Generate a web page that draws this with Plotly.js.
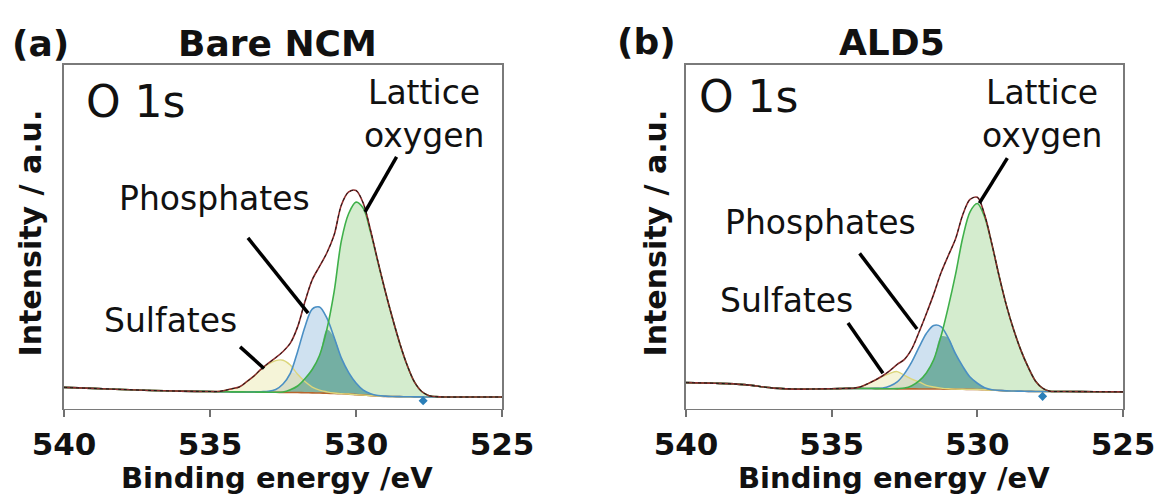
<!DOCTYPE html>
<html>
<head>
<meta charset="utf-8">
<script src="https://cdn.plot.ly/plotly-3.0.1.min.js"></script>
<style>html,body{margin:0;padding:0;background:#fff}#chart{width:1164px;height:499px}</style>
</head>
<body>
<div id="chart"></div>
<script>
// ---- data (binding energy in eV, intensity in a.u. 0-100 of the frame) ----
const energy = [540,539,538,537,536,535.5,535,534.75,534.5,534.25,534,533.75,533.5,533.25,533,532.75,532.5,532.25,532,531.75,531.5,531.25,531,530.75,530.5,530.25,530,529.75,529.5,529.25,529,528.75,528.5,528.25,528,527.75,527.5,527.25,527,526,525];

// panel (a) Bare NCM
const bgA  = [6.2,5.9,5.6,5.3,5.1,5.05,5.0,4.95,4.93,4.9,4.9,4.87,4.85,4.82,4.8,4.77,4.75,4.72,4.7,4.65,4.6,4.55,4.5,4.42,4.35,4.25,4.1,3.95,3.8,3.7,3.6,3.55,3.5,3.47,3.45,3.43,3.42,3.41,3.4,3.4,3.4];
const sulA = [6.2,5.9,5.6,5.3,5.1,5.05,5.0,5.0,5.3,5.8,6.3,7.8,9.4,11.4,13.0,14.0,14.1,12.7,10.0,7.9,6.3,5.4,4.9,4.55,4.38,4.26,4.1,3.95,3.8,3.7,3.6,3.55,3.5,3.47,3.45,3.43,3.42,3.41,3.4,3.4,3.4];
const phoA = [6.2,5.9,5.6,5.3,5.1,5.05,5.0,4.95,4.93,4.9,4.9,4.87,4.9,4.95,5.05,5.6,7.2,10.3,16.6,23.8,29.0,29.6,26.4,20.8,14.7,10.5,7.5,5.4,4.35,3.85,3.65,3.55,3.5,3.47,3.45,3.43,3.42,3.41,3.4,3.4,3.4];
const latA = [6.2,5.9,5.6,5.3,5.1,5.05,5.0,4.95,4.93,4.9,4.9,4.87,4.85,4.82,4.8,4.77,4.85,5.5,6.6,8.7,11.4,15.5,23.0,34.0,48.9,56.8,60.1,58.3,51.3,42.7,34.2,26.3,19.0,12.7,7.8,5.0,3.8,3.5,3.4,3.4,3.4];
const markA = {x:[527.7], y:[2.3]};

// panel (b) ALD5
const bgB  = [7.6,7.4,7.0,6.0,5.7,5.75,5.8,5.85,5.9,5.9,5.9,5.88,5.85,5.82,5.8,5.78,5.77,5.76,5.75,5.73,5.72,5.71,5.7,5.67,5.65,5.62,5.6,5.5,5.4,5.3,5.2,5.15,5.1,5.05,5.0,5.0,5.0,5.0,5.0,4.95,4.9];
const sulB = [7.6,7.4,7.0,6.0,5.7,5.75,5.8,5.85,5.92,5.97,6.4,7.3,8.3,9.4,10.3,10.8,9.7,8.6,7.8,6.8,6.3,6.0,5.8,5.7,5.65,5.62,5.6,5.5,5.4,5.3,5.2,5.15,5.1,5.05,5.0,5.0,5.0,5.0,5.0,4.95,4.9];
const phoB = [7.6,7.4,7.0,6.0,5.7,5.75,5.8,5.85,5.9,5.9,5.9,5.88,5.9,6.0,6.6,7.8,10.2,13.6,17.9,21.9,24.2,23.9,20.6,16.0,12.3,9.2,7.4,6.1,5.5,5.32,5.2,5.15,5.1,5.05,5.0,5.0,5.0,5.0,5.0,4.95,4.9];
const latB = [7.6,7.4,7.0,6.0,5.7,5.75,5.8,5.85,5.9,5.9,5.9,5.88,5.85,5.82,5.8,5.85,6.0,6.7,8.1,10.4,14.2,21.0,29.5,39.0,49.8,57.3,59.7,55.8,47.8,38.5,30.0,22.9,16.9,12.0,8.0,5.9,5.05,5.0,5.0,4.95,4.9];
const markB = {x:[527.76], y:[3.6]};

const xTicks = [540,535,530,525];
const panelTitles = ['Bare NCM','ALD5'];
const panelTags = ['(a)','(b)'];
const peakNames = ['Lattice','oxygen','Phosphates','Sulfates'];
const coreLevel = 'O 1s';
const xTitle = 'Binding energy /eV';
const yTitle = 'Intensity / a.u.';

// ---- styling ----
const W = 1164, H = 499;
const FONT = 'DejaVu Sans, Liberation Sans, Arial, sans-serif';
const C = {
  sulFill:'#f5f4d8', phoFill:'#cfe1f0', latFill:'#d4ecce',
  sb:'#d9dec6', sl:'#c2dcb4', pl:'#74afa3', spl:'#86b49f',
  sulLine:'#dcd67c', phoLine:'#4a8fc4', latLine:'#3fb04a',
  bgLine:'#b8652c', env:'#8e2f2f'
};
const P = (px,py) => ({x:px/W, y:1-py/H});
const SPL = {shape:'spline', smoothing:0.9};

function poly(x, top, bot){ return {x:x.concat(x.slice().reverse()), y:top.concat(bot.slice().reverse())}; }
function minArr(){ const arrs=[...arguments]; return arrs[0].map((_,i)=>Math.min(...arrs.map(a=>a[i]))); }

function panelTraces(bg, sul, pho, lat, mark, xa, ya){
  const env = bg.map((b,i)=> b + (sul[i]-b) + (pho[i]-b) + (lat[i]-b));
  const t = [];
  const fill = (top,color)=>{ const p=poly(energy, top, bg); t.push({x:p.x,y:p.y,type:'scatter',mode:'lines',fill:'toself',fillcolor:color,line:Object.assign({width:0},SPL),xaxis:xa,yaxis:ya,hoverinfo:'skip'}); };
  fill(sul, C.sulFill); fill(pho, C.phoFill); fill(lat, C.latFill);
  fill(minArr(sul,pho), C.sb); fill(minArr(sul,lat), C.sl); fill(minArr(pho,lat), C.pl); fill(minArr(sul,pho,lat), C.spl);
  const line = (y,color,w,dash)=> t.push({x:energy,y:y,type:'scatter',mode:'lines',line:Object.assign({color:color,width:w,dash:dash||'solid'},SPL),xaxis:xa,yaxis:ya});
  line(bg, C.bgLine, 1.6);
  line(sul, C.sulLine, 1.4); line(pho, C.phoLine, 1.6); line(lat, C.latLine, 1.6);
  line(env, C.env, 1.6); line(env, '#1a1a1a', 1, 'dot');
  t.push({x:mark.x,y:mark.y,type:'scatter',mode:'markers',marker:{symbol:'diamond',size:7,color:'#2b7fb8'},xaxis:xa,yaxis:ya});
  return t;
}

const data = [].concat(
  panelTraces(bgA, sulA, phoA, latA, markA, 'x', 'y'),
  panelTraces(bgB, sulB, phoB, latB, markB, 'x2', 'y2')
);

const yDom = [(H-408.7)/H, (H-65)/H];
const xAxisBase = {
  range:[540,525], tickvals:xTicks, ticktext:xTicks.map(String),
  ticks:'outside', ticklen:7, tickwidth:2, tickcolor:'#707070',
  showline:true, linecolor:'#7a7a7a', linewidth:1.6, mirror:true,
  showgrid:false, zeroline:false, fixedrange:true,
  tickfont:{family:FONT, size:31, color:'#111', weight:'bold'}
};
const yAxisBase = {range:[0,100], domain:yDom, showticklabels:false, ticks:'', showline:true, linecolor:'#7a7a7a', linewidth:1.6, mirror:true, showgrid:false, zeroline:false, fixedrange:true};

function ann(text, x, y, xr, yr, size, opts){
  return Object.assign({text:text, x:x, y:y, xref:xr, yref:yr, showarrow:false, xanchor:'center', yanchor:'middle', font:{family:FONT, size:size, color:'#111'}}, opts||{});
}

const annotations = [
  // panel (a)
  ann('<b>'+panelTags[0]+'</b>', P(40,44).x, P(40,44).y, 'paper','paper', 36),
  ann('<b>'+panelTitles[0]+'</b>', P(277,44).x, P(277,44).y, 'paper','paper', 36),
  ann(coreLevel, 539.32, 89.5, 'x','y', 44, {xanchor:'left'}),
  ann(peakNames[0], 527.67, 91.9, 'x','y', 33),
  ann(peakNames[1], 527.67, 79.6, 'x','y', 33),
  ann(peakNames[2], 534.86, 61.3, 'x','y', 33),
  ann(peakNames[3], 536.34, 25.8, 'x','y', 33),
  ann('<b>'+xTitle+'</b>', P(277,478).x, P(277,478).y, 'paper','paper', 29),
  ann('<b>'+yTitle+'</b>', P(30,233.5).x, P(30,233.5).y, 'paper','paper', 30, {textangle:-90}),
  // panel (b)
  ann('<b>'+panelTags[1]+'</b>', P(646,42).x, P(646,42).y, 'paper','paper', 36),
  ann('<b>'+panelTitles[1]+'</b>', P(892,43).x, P(892,43).y, 'paper','paper', 36),
  ann(coreLevel, 539.62, 90.8, 'x2','y2', 44, {xanchor:'left'}),
  ann(peakNames[0], 527.77, 92.1, 'x2','y2', 33),
  ann(peakNames[1], 527.77, 79.6, 'x2','y2', 33),
  ann(peakNames[2], 535.38, 54.3, 'x2','y2', 33),
  ann(peakNames[3], 536.54, 31.6, 'x2','y2', 33),
  ann('<b>'+xTitle+'</b>', P(894,478).x, P(894,478).y, 'paper','paper', 29),
  ann('<b>'+yTitle+'</b>', P(655,233.5).x, P(655,233.5).y, 'paper','paper', 30, {textangle:-90})
];

const lead = (x0,y0,x1,y1,xr,yr)=>({type:'line', xref:xr, yref:yr, x0:x0, y0:y0, x1:x1, y1:y1, line:{color:'#000', width:3.5}});
const shapes = [
  lead(528.61,73.3,529.69,57.3,'x','y'),
  lead(533.70,49.7,531.64,27.8,'x','y'),
  lead(533.97,18.0,533.15,11.7,'x','y'),
  lead(528.97,72.9,529.93,59.8,'x2','y2'),
  lead(534.04,45.2,532.07,23.2,'x2','y2'),
  lead(534.44,24.9,533.24,10.3,'x2','y2')
];

const layout = {
  width:W, height:H, margin:{l:0,r:0,t:0,b:0},
  paper_bgcolor:'#fff', plot_bgcolor:'#fff', showlegend:false,
  xaxis: Object.assign({}, xAxisBase, {domain:[64/W, 502/W], anchor:'y'}),
  yaxis: Object.assign({}, yAxisBase, {anchor:'x'}),
  xaxis2: Object.assign({}, xAxisBase, {domain:[686/W, 1123/W], anchor:'y2'}),
  yaxis2: Object.assign({}, yAxisBase, {anchor:'x2'}),
  annotations: annotations, shapes: shapes
};

Plotly.newPlot('chart', data, layout, {staticPlot:true, displayModeBar:false});
</script>
</body>
</html>
